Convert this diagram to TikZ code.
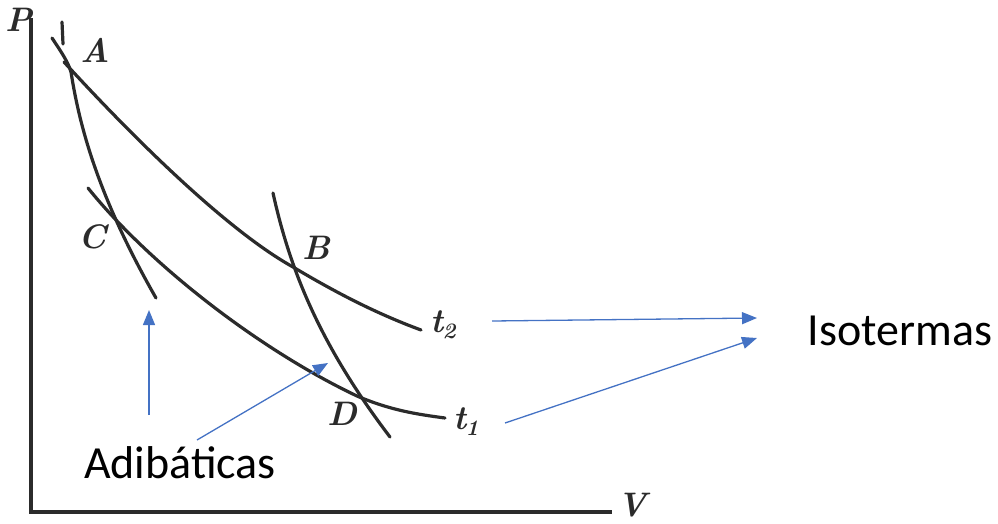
\documentclass[tikz,border=0pt]{standalone}
\usepackage{fontspec}
\newfontfamily\calib{Carlito}
\usetikzlibrary{arrows.meta}
\definecolor{ink}{HTML}{2B2B2B}
\definecolor{arrblue}{HTML}{4472C4}
\tikzset{
  curve/.style={draw=ink, line width=3.2pt, line cap=round, line join=round},
  axisline/.style={draw=ink, line width=4pt, line join=miter},
  hand/.style={text=ink, font=\fontsize{34}{36}\selectfont\bfseries\itshape, inner sep=0pt},
  callout/.style={draw=arrblue, line width=1.3pt, -{Triangle[length=15pt,width=12pt]}},
  bigtext/.style={font=\calib\fontsize{46}{50}\selectfont, inner sep=0pt, anchor=base}
}
\newcommand{\tsub}[1]{t\kern-1pt\raisebox{-6pt}{\fontsize{22}{22}\selectfont #1}}
\begin{document}
\begin{tikzpicture}[x=1pt,y=-1pt]
\useasboundingbox (0,0) rectangle (998,523);
% axes
\draw[axisline] (31,18) -- (31,512) -- (612,512);
\node[hand] (P) at (19,20) {P};
\node[hand] (V) at (632,505) {V};
% adiabat 1 (through A and C)
\draw[curve] (52,38) .. controls (62,53) and (68,62) .. (71,72)
             .. controls (80,130) and (100,200) .. (156,298);
\draw[curve] (62,22) -- (63,44);
% adiabat 2 (through B and D)
\draw[curve] (273,193) .. controls (290,270) and (320,345) .. (390,437);
% isotherm t2
\draw[curve] (64,62) .. controls (140,145) and (230,232) .. (293,267)
             .. controls (335,292) and (375,313) .. (421,330);
% isotherm t1
\draw[curve] (88,188) .. controls (150,265) and (260,350) .. (357,396)
             .. controls (390,410) and (415,414) .. (445,418);
% point labels
\node[hand] (A) at (95,50) {A};
\node[hand] (B) at (316,248) {B};
\node[hand] (C) at (93,237) {C};
\node[hand] (D) at (342,414) {D};
\node[hand] (t2) at (443,325) {\tsub{2}};
\node[hand] (t1) at (466,422) {\tsub{1}};
% text labels
\node[bigtext] (iso) at (900,345) {Isotermas};
\node[bigtext] (adi) at (180,478) {Adibáticas};
% callout arrow ends
\coordinate (ta1) at (149,310);
\coordinate (ta2) at (328,363);
\coordinate (ti1) at (757,318);
\coordinate (ti2) at (757,338);
\coordinate (sa1) at (149,415);
\coordinate (sa2) at (197,440);
\coordinate (si1) at (492,321);
\coordinate (si2) at (505,423);
\draw[callout] (sa1) -- (ta1);
\draw[callout] (sa2) -- (ta2);
\draw[callout] (si1) -- (ti1);
\draw[callout] (si2) -- (ti2);
\end{tikzpicture}
\end{document}
